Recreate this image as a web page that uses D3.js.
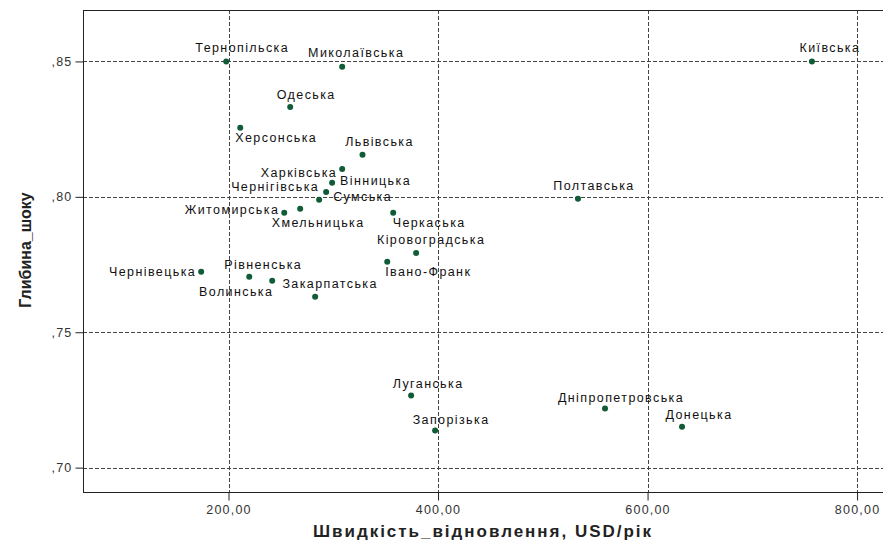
<!DOCTYPE html>
<html>
<head>
<meta charset="utf-8">
<script src="https://cdn.jsdelivr.net/npm/d3@7"></script>
<style>
    body { margin: 0; background: #fff; }
    text { font-family: "Liberation Sans", Arial, sans-serif; }
</style>
</head>
<body>
<div id="chart"></div>
<script>
// regions and their values
var regions = ['Тернопільска', 'Миколаївська', 'Київська', 'Одеська', 'Херсонська', 'Львівська',
    'Харківська', 'Вінницька', 'Чернігівська', 'Сумська', 'Полтавська', 'Житомирська',
    'Хмельницька', 'Черкаська', 'Кіровоградська', 'Івано-Франк', 'Чернівецька', 'Рівненська',
    'Волинська', 'Закарпатська', 'Луганська', 'Запорізька', 'Дніпропетровська', 'Донецька'];
var recovery = [197.8, 308.5, 756.9, 258.9, 211.2, 327.9,
    308.5, 298.9, 293.2, 286.5, 533.6, 253.2,
    268.4, 357.2, 379.1, 351.5, 173.9, 219.8,
    241.7, 282.7, 374.3, 397.2, 559.4, 632.9];
var shock = [0.850, 0.848, 0.850, 0.8332, 0.8255, 0.8155,
    0.8103, 0.8052, 0.8018, 0.7989, 0.7993, 0.7941,
    0.7956, 0.7941, 0.7793, 0.7760, 0.7723, 0.7705,
    0.7690, 0.7631, 0.7266, 0.7137, 0.7218, 0.7151];
var xTicks = [200, 400, 600, 800];
var yTicks = [0.70, 0.75, 0.80, 0.85];

// label placement, same order as regions: [anchor, dx, dy]
var labelPos = [['middle', 16, -13], ['middle', 14, -14], ['middle', 18, -13], ['middle', 16, -12],
    ['middle', 36, 10], ['middle', 17, -13], ['end', -5, 4], ['start', 8, -2],
    ['end', -7, -5], ['start', 14, -3], ['middle', 16, -13], ['end', -5, -3],
    ['middle', 18, 14], ['middle', 36, 10], ['middle', 15, -13], ['middle', 41, 10],
    ['end', -5, 0], ['middle', 14, -12], ['middle', -36, 11], ['middle', 15, -13],
    ['middle', 17, -12], ['middle', 16, -11], ['middle', 16, -11], ['middle', 17, -12]];

var width = 883, height = 542,
    margin = {top: 10, right: -1, bottom: 50, left: 83};

var data = regions.map(function(name, i) {
    return {name: name, x: recovery[i], y: shock[i], pos: labelPos[i]};
});

var x = d3.scaleLinear()
    .domain([61.1, 825.7])
    .range([margin.left, width - margin.right]);

var y = d3.scaleLinear()
    .domain([0.691, 0.869])
    .range([height - margin.bottom, margin.top]);

var svg = d3.select('#chart').append('svg')
    .attr('width', width)
    .attr('height', height);

// grid
svg.append('g')
    .selectAll('line')
    .data(yTicks)
  .enter().append('line')
    .attr('x1', margin.left).attr('x2', width - margin.right)
    .attr('y1', function(d) { return Math.round(y(d)) + 0.5; })
    .attr('y2', function(d) { return Math.round(y(d)) + 0.5; })
    .attr('stroke', '#444')
    .attr('stroke-dasharray', '4,2');

svg.append('g')
    .selectAll('line')
    .data(xTicks)
  .enter().append('line')
    .attr('y1', margin.top).attr('y2', height - margin.bottom)
    .attr('x1', function(d) { return Math.round(x(d)) + 0.5; })
    .attr('x2', function(d) { return Math.round(x(d)) + 0.5; })
    .attr('stroke', '#444')
    .attr('stroke-dasharray', '4,2');

// frame
svg.append('rect')
    .attr('x', margin.left + 0.5).attr('y', margin.top + 0.5)
    .attr('width', width - margin.right - margin.left)
    .attr('height', height - margin.bottom - margin.top)
    .attr('fill', 'none')
    .attr('stroke', '#222');

// axes
var xAxis = svg.append('g')
    .attr('transform', 'translate(0,' + (height - margin.bottom + 0.5) + ')')
    .call(d3.axisBottom(x).tickValues(xTicks).tickSize(8).tickPadding(5)
        .tickFormat(function(d) { return d3.format('.2f')(d).replace('.', ','); }));

var yAxis = svg.append('g')
    .attr('transform', 'translate(' + (margin.left + 0.5) + ',0)')
    .call(d3.axisLeft(y).tickValues(yTicks).tickSize(8).tickPadding(3)
        .tickFormat(function(d) { return d3.format('.2f')(d).replace('0.', ','); }));

[xAxis, yAxis].forEach(function(ax) {
    ax.select('.domain').remove();
    ax.selectAll('line').attr('stroke', '#222');
    ax.selectAll('text')
        .attr('fill', '#333')
        .style('font-size', '12.5px')
        .style('letter-spacing', '1.2px')
        .style('font-family', '"Liberation Sans", Arial, sans-serif');
});

// points
svg.append('g')
    .selectAll('circle')
    .data(data)
  .enter().append('circle')
    .attr('cx', function(d) { return x(d.x); })
    .attr('cy', function(d) { return y(d.y); })
    .attr('r', 3)
    .attr('fill', '#0f5c36');

// point labels
svg.append('g')
    .selectAll('text')
    .data(data)
  .enter().append('text')
    .attr('x', function(d) { return x(d.x) + d.pos[1]; })
    .attr('y', function(d) { return y(d.y) + d.pos[2]; })
    .attr('text-anchor', function(d) { return d.pos[0]; })
    .attr('dominant-baseline', 'central')
    .attr('fill', '#111')
    .style('font-size', '12.5px')
    .style('letter-spacing', '1.4px')
    .text(function(d) { return d.name; });

// axis titles
svg.append('text')
    .attr('x', 482)
    .attr('y', 531)
    .attr('text-anchor', 'middle')
    .attr('dominant-baseline', 'central')
    .attr('textLength', 338)
    .attr('lengthAdjust', 'spacing')
    .attr('fill', '#222')
    .style('font-size', '17px')
    .style('font-weight', 'bold')
    .text('Швидкість_відновлення, USD/рік');

svg.append('text')
    .attr('transform', 'translate(25,250) rotate(-90)')
    .attr('text-anchor', 'middle')
    .attr('dominant-baseline', 'central')
    .attr('fill', '#222')
    .style('font-size', '16px')
    .style('font-weight', 'bold')
    .text('Глибина_шоку');
</script>
</body>
</html>
